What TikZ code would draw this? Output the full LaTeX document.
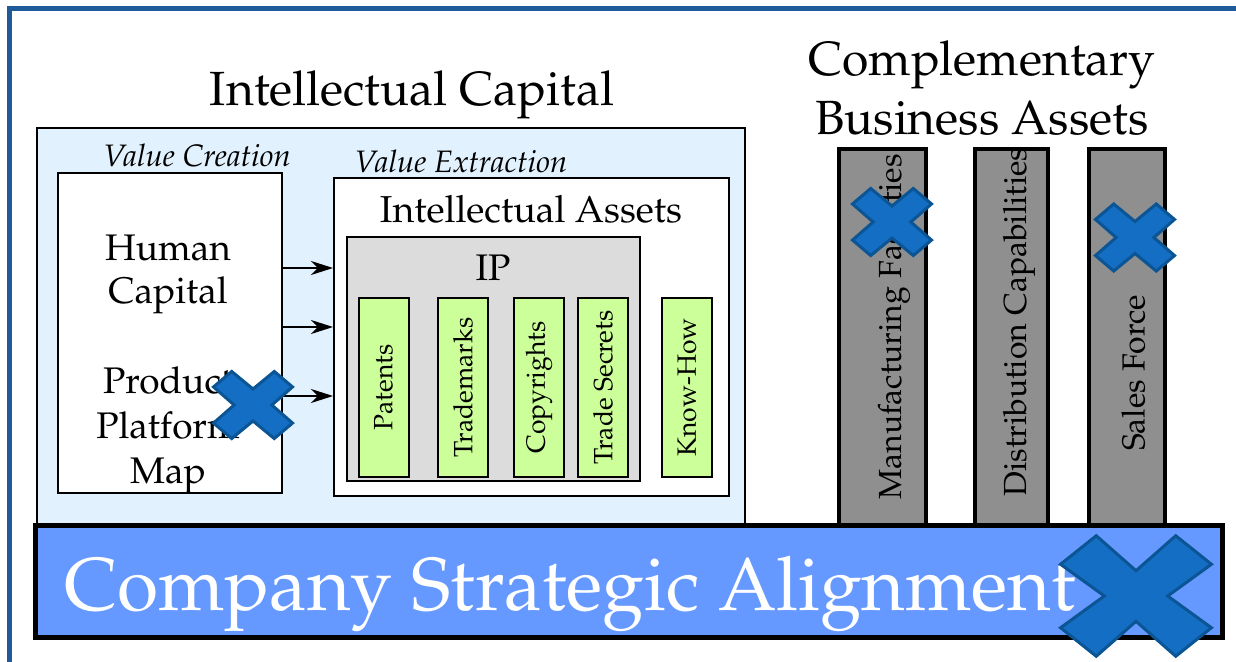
\documentclass[tikz,border=0pt]{standalone}
\usepackage[T1]{fontenc}
\usepackage{mathpazo}
\usetikzlibrary{arrows.meta}

\definecolor{framecol}{HTML}{1F5B98}
\definecolor{panelcol}{HTML}{E1F1FD}
\definecolor{ipcol}{HTML}{DCDCDC}
\definecolor{assetcol}{HTML}{CCFF99}
\definecolor{pillarcol}{HTML}{8F8F8F}
\definecolor{barcol}{HTML}{6699FF}
\definecolor{xfill}{HTML}{146EC3}
\definecolor{xedge}{HTML}{0B5595}

\begin{document}
\begin{tikzpicture}[x=1pt,y=-1pt]
        \tikzset{panel/.style = {draw, line width=1.5pt, fill=panelcol, inner sep=0pt}}
        \tikzset{box/.style = {draw, line width=2pt, fill=white, inner sep=0pt}}
        \tikzset{ipbox/.style = {box, fill=ipcol}}
        \tikzset{asset/.style = {box, fill=assetcol, rotate=90, minimum width=179pt, minimum height=50pt, font=\fontsize{26.5}{30}\selectfont}}
        \tikzset{pillar/.style = {draw, line width=4pt, fill=pillarcol, inner sep=0pt}}
        \tikzset{pillarlabel/.style = {rotate=90, inner sep=0pt, font=\fontsize{32}{38}\selectfont}}
        \tikzset{label/.style = {inner sep=0pt, anchor=base}}
        \tikzset{flow/.style = {-{Stealth[length=22pt,width=14pt,inset=7pt]}, line width=2pt}}
        \tikzset{xmark/.style = {draw=xedge, fill=xfill, line width=3pt, line join=miter}}
        \tikzset{pics/crossmark/.style 2 args = {code = {
          \path[xmark] (0,#1) -- ({1-#2},{1+#2}) -- ({1+#2},{1-#2}) -- (#1,0)
            -- ({1+#2},{#2-1}) -- ({1-#2},{-1-#2}) -- (0,-#1) -- ({#2-1},{-1-#2})
            -- ({-1-#2},{#2-1}) -- (-#1,0) -- ({-1-#2},{1-#2}) -- ({#2-1},{1+#2}) -- cycle;}}}

        \useasboundingbox (0,0) rectangle (1236,661);
        \clip (0,0) rectangle (1236,661);
        \draw[framecol, line width=5pt] (9.5,8.5) rectangle (1300,720);

        % intellectual capital
        \node[label, font=\fontsize{48}{58}\selectfont] (ictitle) at (412,105) {Intellectual Capital};
        \node[panel, minimum width=708pt, minimum height=417pt] (ic) at (391,336.5) {};

        \node[label, font=\fontsize{31}{36}\itshape] (vctitle) at (197,166) {Value Creation};
        \node[box, minimum width=224pt, minimum height=320pt] (vc) at (170,333) {};
        \node[label, align=center, font=\fontsize{37}{43}\selectfont] (hc) at (168,303) {Human\\Capital};
        \node[label, align=center, font=\fontsize{37}{45}\selectfont] (ppm) at (168,483) {Product\\Platform\\Map};

        \node[label, font=\fontsize{31}{36}\itshape] (vetitle) at (461,172) {Value Extraction};
        \node[box, minimum width=395pt, minimum height=318pt] (ve) at (531.5,337) {};
        \node[label, font=\fontsize{37.5}{44}\selectfont] (iatitle) at (531,222) {Intellectual Assets};
        \node[ipbox, minimum width=293pt, minimum height=244pt] (ip) at (493.5,359) {};
        \node[label, font=\fontsize{37}{44}\selectfont] (iptitle) at (493,280) {IP};

        \node[asset] (pat) at (383.5,387.5) {Patents};
        \node[asset] (tm) at (463,387.5) {Trademarks};
        \node[asset] (cr) at (539,387.5) {Copyrights};
        \node[asset] (ts) at (603,387.5) {Trade Secrets};
        \node[asset] (kh) at (687,387.5) {Know-How};

        \draw[flow] (vc.east |- 0,268) -- (ve.west |- 0,268);
        \draw[flow] (vc.east |- 0,327) -- (ve.west |- 0,327);
        \draw[flow] (vc.east |- 0,396) -- (ve.west |- 0,396);

        % complementary business assets
        \node[label, align=center, font=\fontsize{48}{59}\selectfont] (cbtitle) at (982,134) {Complementary\\Business Assets};
        \node[pillar, minimum width=87pt, minimum height=390pt] (mf) at (882.5,344) {};
        \node[pillar, minimum width=73pt, minimum height=390pt] (dc) at (1011.5,344) {};
        \node[pillar, minimum width=76pt, minimum height=390pt] (sf) at (1127,344) {};
        \node[pillarlabel] (mflabel) at (894,327) {Manufacturing Facilities};
        \node[pillarlabel] (dclabel) at (1019,322) {Distribution Capabilities};
        \node[pillarlabel] (sflabel) at (1133.5,373) {Sales Force};

        % strategic alignment
        \node[draw, line width=5pt, fill=barcol, inner sep=0pt, minimum width=1187pt, minimum height=112pt] (csa) at (629,581.5) {};
        \node[inner sep=0pt, anchor=base west, text=white, font=\fontsize{75}{90}\selectfont] (csalabel) at (64,610) {Company Strategic Alignment};

        \pic[xscale=30.4, yscale=25.8] at (253,405) {crossmark={0.62}{0.3}};
        \pic[xscale=30.4, yscale=25.8] at (892,222) {crossmark={0.62}{0.3}};
        \pic[xscale=30.4, yscale=25.8] at (1135,237.5) {crossmark={0.62}{0.3}};
        \pic[xscale=57.6, yscale=46] at (1136,596) {crossmark={0.55}{0.31}};
\end{tikzpicture}
\end{document}
